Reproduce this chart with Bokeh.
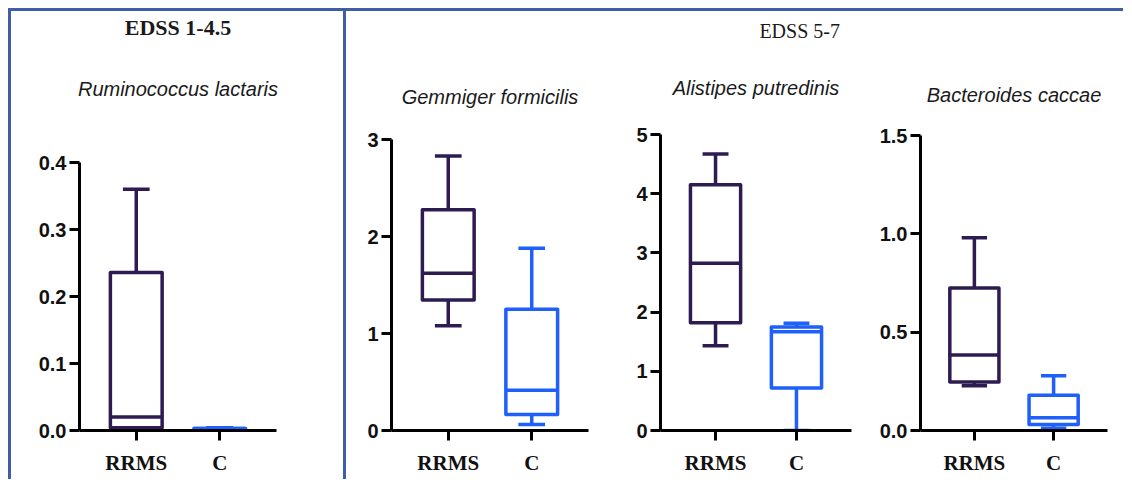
from bokeh.plotting import figure
from bokeh.models import (Range1d, FixedTicker, LinearAxis, Spacer,
                          NumeralTickFormatter, ColumnDataSource)
from bokeh.layouts import row, column
from bokeh.embed import file_html
from bokeh.resources import INLINE

# ---------------- data ----------------
groups = ["RRMS", "C"]
group_pos = [1, 2]
section_titles = ["EDSS 1-4.5", "EDSS 5-7"]
species = ["Ruminococcus lactaris", "Gemmiger formicilis", "Alistipes putredinis", "Bacteroides caccae"]

# five-number summaries: min, q1, median, q3, max
rum_rrms = [0.003, 0.004, 0.020, 0.236, 0.360]
rum_c = [0.002, 0.003, 0.003, 0.003, 0.004]
gem_rrms = [1.08, 1.345, 1.62, 2.275, 2.83]
gem_c = [0.062, 0.165, 0.414, 1.25, 1.88]
ali_rrms = [1.43, 1.82, 2.825, 4.15, 4.67]
ali_c = [0.0, 0.72, 1.67, 1.75, 1.81]
bac_rrms = [0.227, 0.247, 0.384, 0.724, 0.98]
bac_c = [0.012, 0.030, 0.065, 0.179, 0.278]

yticks_rum = [0, 0.1, 0.2, 0.3, 0.4]
yticks_gem = [0, 1, 2, 3]
yticks_ali = [0, 1, 2, 3, 4, 5]
yticks_bac = [0, 0.5, 1.0, 1.5]

# ---------------- style / layout ----------------
PURPLE = "#2d1b52"
BLUE = "#1f5ffa"
FRAME = "#3e5fa6"
colors = [PURPLE, BLUE]
BOX_W = 0.62
CAP_W = 0.32
LW = 3.5
X0, X1 = 0.32, 2.68

H = 468           # figure height
MB_TOP = 123      # common frame top (frames are aligned across the row)
MB_BOTTOM = 49    # common frame bottom
FRAME_H = H - MB_TOP - MB_BOTTOM


def text_axis(p, text, standoff, font, style, size, tick=None):
    """Invisible axis above the frame that only carries a text."""
    if tick is None:
        ax = LinearAxis(ticker=FixedTicker(ticks=[]), axis_label=text,
                        axis_label_standoff=standoff, axis_label_text_font=font,
                        axis_label_text_font_style=style, axis_label_text_font_size=size,
                        axis_label_text_color="#1a1a1a")
    else:
        ax = LinearAxis(ticker=FixedTicker(ticks=[tick]),
                        major_label_overrides={tick: text},
                        major_label_standoff=standoff, major_label_text_font=font,
                        major_label_text_font_style=style, major_label_text_font_size=size,
                        major_label_text_color="#1a1a1a")
    ax.axis_line_color = None
    ax.major_tick_line_color = None
    ax.minor_tick_line_color = None
    ax.major_tick_out = 0
    ax.major_tick_in = 0
    ax.minor_tick_out = 0
    if tick is None:
        ax.major_label_text_font_size = "0px"
    p.add_layout(ax, "above")


def make_panel(width, mb_left, mb_right, stats_list, yticks, yfmt, top_gap,
               subtitle, sub_standoff):
    # top_gap: pixels between frame top and the highest tick
    y_end = yticks[-1] * FRAME_H / (FRAME_H - top_gap)
    p = figure(width=width, height=H, title=None,
               x_range=Range1d(X0, X1), y_range=Range1d(0, y_end),
               output_backend="svg", toolbar_location=None,
               min_border_left=mb_left, min_border_right=mb_right,
               min_border_top=MB_TOP, min_border_bottom=MB_BOTTOM)
    p.outline_line_color = None
    p.xgrid.visible = False
    p.ygrid.visible = False

    xs = group_pos
    src = ColumnDataSource(dict(
        x=xs,
        mn=[s[0] for s in stats_list], q1=[s[1] for s in stats_list],
        md=[s[2] for s in stats_list], q3=[s[3] for s in stats_list],
        mx=[s[4] for s in stats_list], color=colors,
        bl=[x - BOX_W / 2 for x in xs], br=[x + BOX_W / 2 for x in xs],
        cl=[x - CAP_W / 2 for x in xs], cr=[x + CAP_W / 2 for x in xs],
    ))
    # whiskers
    p.segment(x0="x", x1="x", y0="q3", y1="mx", source=src, line_color="color", line_width=LW)
    p.segment(x0="x", x1="x", y0="q1", y1="mn", source=src, line_color="color", line_width=LW)
    # caps
    p.segment(x0="cl", x1="cr", y0="mx", y1="mx", source=src, line_color="color", line_width=LW)
    p.segment(x0="cl", x1="cr", y0="mn", y1="mn", source=src, line_color="color", line_width=LW)
    # boxes
    p.quad(left="bl", right="br", bottom="q1", top="q3", source=src, fill_color="white",
           line_color="color", line_width=LW, line_join="round")
    # medians
    p.segment(x0="bl", x1="br", y0="md", y1="md", source=src, line_color="color", line_width=LW)

    for ax in (p.xaxis, p.yaxis):
        ax.axis_line_width = 3
        ax.axis_line_color = "black"
        ax.major_tick_line_width = 3
        ax.major_tick_line_color = "black"
        ax.major_tick_out = 10
        ax.major_tick_in = 0
        ax.minor_tick_line_color = None
    p.xaxis.ticker = FixedTicker(ticks=group_pos)
    p.xaxis.major_label_overrides = {pos: g for pos, g in zip(group_pos, groups)}
    p.xaxis.major_label_text_font = "Liberation Serif"
    p.xaxis.major_label_text_font_style = "bold"
    p.xaxis.major_label_text_font_size = "21px"
    p.xaxis.major_label_text_color = "#111111"
    p.xaxis.major_label_standoff = 10

    p.yaxis.ticker = FixedTicker(ticks=yticks)
    p.yaxis.bounds = (0, yticks[-1])
    p.yaxis.formatter = NumeralTickFormatter(format=yfmt)
    p.yaxis.major_label_text_font = "Liberation Sans"
    p.yaxis.major_label_text_font_style = "bold"
    p.yaxis.major_label_text_font_size = "20px"
    p.yaxis.major_label_text_color = "#111111"
    p.yaxis.major_label_standoff = 3

    text_axis(p, subtitle, sub_standoff, "Liberation Sans", "italic", "20px")
    return p


fig1 = make_panel(332, 68, 67, [rum_rrms, rum_c], yticks_rum, "0.0", 28, species[0], 35)
text_axis(fig1, section_titles[0], 35, "Liberation Serif", "bold", "22px")

fig2 = make_panel(278, 45, 36, [gem_rrms, gem_c], yticks_gem, "0", 5, species[1], 27)

fig3 = make_panel(245, 36, 18, [ali_rrms, ali_c], yticks_ali, "0", 0, species[2], 36)
text_axis(fig3, section_titles[1], 32, "Liberation Serif", "normal", "20px", tick=2.04)

fig4 = make_panel(254, 51, 16, [bac_rrms, bac_c], yticks_bac, "0.0", 1, species[3], 29)

line_style = {"background-color": FRAME}
left_line = Spacer(width=3, height=471, styles=line_style)
top_line = Spacer(width=1112, height=3, styles=line_style)
mid_line = Spacer(width=3, height=H, styles=line_style)

root = column(
    Spacer(width=1123, height=8),
    row(Spacer(width=8, height=471), left_line,
        column(top_line, row(fig1, mid_line, fig2, fig3, fig4))),
)

open("out.html", "w").write(file_html(root, INLINE))
